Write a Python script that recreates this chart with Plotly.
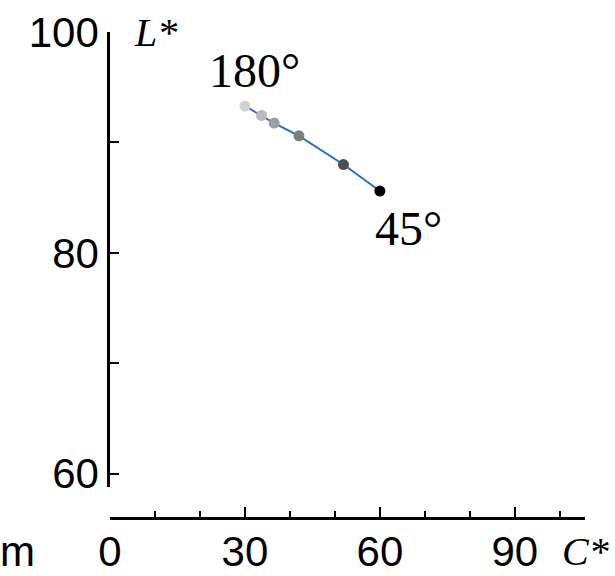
import plotly.graph_objects as go

# Data
chroma = [30.0, 33.7, 36.5, 42.0, 51.9, 60.0]
lightness = [93.3, 92.45, 91.75, 90.6, 88.0, 85.6]
shades = ['#d2d2d2', '#bababa', '#9e9e9e', '#7e7e7e', '#4e4e4e', '#000000']
end_labels = ['180°', '45°']

x_tickvals = [0, 10, 20, 30, 40, 50, 60, 70, 80, 90, 100]
x_ticktext = ['0', '', '', '30', '', '', '60', '', '', '90', '']
x_major = [30, 60, 90]
y_tickvals = [60, 70, 80, 90, 100]
y_ticktext = ['60', '', '80', '', '100']

X_RANGE = [0, 105.6]
Y_RANGE = [58.8, 100]

sans = 'Liberation Sans, Arial, sans-serif'
serif = 'Liberation Serif, Times New Roman, serif'

fig = go.Figure()
fig.add_trace(go.Scatter(
    x=chroma, y=lightness, mode='lines+markers',
    line=dict(color='#1b76c9', width=2),
    marker=dict(color=shades, size=11, line=dict(width=0)),
    showlegend=False, hoverinfo='skip'))
# helper trace so the overlay axis carrying the long ticks is drawn
fig.add_trace(go.Scatter(x=[0], y=[80], xaxis='x2', yaxis='y', mode='markers',
                         marker=dict(opacity=0), showlegend=False, hoverinfo='skip'))

fig.update_layout(
    width=615, height=576,
    margin=dict(l=110, r=30, t=32, b=58, autoexpand=False),
    plot_bgcolor='white', paper_bgcolor='white',
    xaxis=dict(domain=[0, 1], range=X_RANGE, anchor='free', position=0, automargin=False,
               showgrid=False, zeroline=False, showline=True, linecolor='black',
               linewidth=2.5, ticks='inside', ticklen=6, tickwidth=2, tickcolor='black',
               tickvals=x_tickvals, ticktext=x_ticktext, ticklabelstandoff=-4,
               tickfont=dict(family=sans, size=42, color='black')),
    xaxis2=dict(domain=[0, 1], range=X_RANGE, overlaying='x', anchor='free', position=0,
                automargin=False,
                showgrid=False, zeroline=False, showline=False,
                ticks='inside', ticklen=11, tickwidth=2, tickcolor='black',
                tickvals=x_major, ticktext=['' for _ in x_major]),
    yaxis=dict(domain=[0.0638, 1], range=Y_RANGE, anchor='x', automargin=False,
               showgrid=False, zeroline=False, showline=True, linecolor='black',
               linewidth=2.5, ticks='inside', ticklen=9, tickwidth=2, tickcolor='black',
               tickvals=y_tickvals, ticktext=y_ticktext,
               tickfont=dict(family=sans, size=42, color='black')),
    annotations=[
        dict(text='<i>L*</i>', xref='x', yref='y', x=5, y=100, xanchor='left',
             yanchor='middle', showarrow=False,
             font=dict(family=serif, size=40, color='black')),
        dict(text='<i>C*</i>', xref='paper', yref='paper', x=0.947, y=-0.068,
             xanchor='left', yanchor='middle', showarrow=False,
             font=dict(family=serif, size=40, color='black')),
        dict(text='m', xref='paper', yref='paper', x=-0.2358, y=-0.068,
             xanchor='left', yanchor='middle', showarrow=False,
             font=dict(family=sans, size=42, color='black')),
        dict(text=end_labels[0], xref='x', yref='y', x=chroma[0], y=lightness[0],
             xanchor='center', yanchor='middle', xshift=10, yshift=35, showarrow=False,
             font=dict(family=serif, size=48, color='black')),
        dict(text=end_labels[1], xref='x', yref='y', x=chroma[-1], y=lightness[-1],
             xanchor='center', yanchor='middle', xshift=29, yshift=-37, showarrow=False,
             font=dict(family=serif, size=48, color='black')),
    ],
)

fig.write_html('out.html')
